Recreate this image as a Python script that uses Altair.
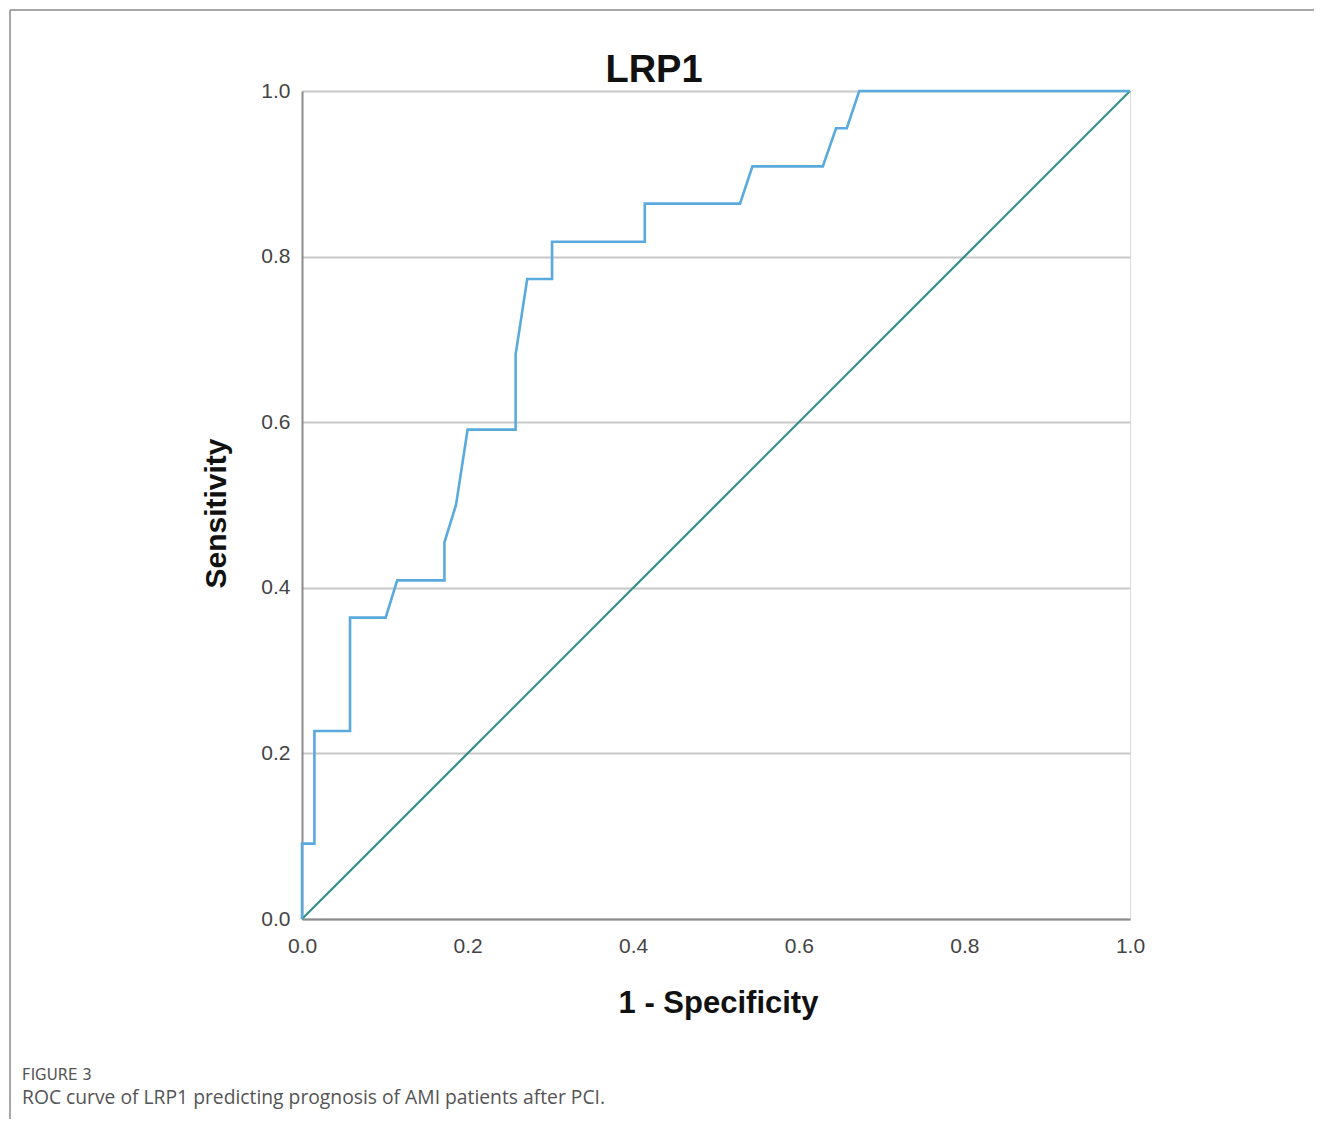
import altair as alt
import pandas as pd

# ROC curve points (1 - Specificity, Sensitivity)
fpr = [0.000, 0.000, 0.015, 0.015, 0.058, 0.058, 0.101, 0.115, 0.172, 0.172,
       0.186, 0.200, 0.258, 0.258, 0.272, 0.302, 0.302, 0.414, 0.414, 0.529,
       0.544, 0.629, 0.645, 0.658, 0.673, 1.000]
tpr = [0.000, 0.091, 0.091, 0.227, 0.227, 0.364, 0.364, 0.409, 0.409, 0.455,
       0.500, 0.591, 0.591, 0.682, 0.773, 0.773, 0.818, 0.818, 0.864, 0.864,
       0.909, 0.909, 0.955, 0.955, 1.000, 1.000]

# Reference (chance) line
ref_x = [0.0, 1.0]
ref_y = [0.0, 1.0]

tick_values = [0.0, 0.2, 0.4, 0.6, 0.8, 1.0]

title_text = "LRP1"
x_title = "1 - Specificity"
y_title = "Sensitivity"
caption_head = "FIGURE 3"
caption_body = "ROC curve of LRP1 predicting prognosis of AMI patients after PCI."

W, H = 828, 828
PAD_L, PAD_T, PAD_R, PAD_B = 294, 83, 184, 200

roc_df = pd.DataFrame({"fpr": fpr, "tpr": tpr, "order": list(range(len(fpr)))})
ref_df = pd.DataFrame({"fpr": ref_x, "tpr": ref_y, "order": [0, 1]})
one = pd.DataFrame({"a": [0]})

x_scale = alt.Scale(domain=[0, 1], nice=False, zero=True)
y_scale = alt.Scale(domain=[0, 1], nice=False, zero=True)

x_axis = alt.Axis(
    title=x_title, values=tick_values, format=".1f", grid=False, ticks=False, tickSize=0,
    labelFont="Liberation Sans", labelFontSize=21, labelColor="#444444", labelPadding=16,
    labelFlush=False, labelOverlap=False,
    domainColor="#8c8c8c", domainWidth=2,
    titleFont="Liberation Sans", titleFontSize=31, titleFontWeight="bold", titleColor="#111111",
    titleX=416, titleY=93, titleBaseline="alphabetic", titleAlign="center", titleAnchor="start",
)
y_axis = alt.Axis(
    title=y_title, values=tick_values, format=".1f", grid=True, ticks=False, tickSize=0,
    gridColor="#c8c8c8", gridWidth=2,
    labelFont="Liberation Sans", labelFontSize=21, labelColor="#444444", labelPadding=12,
    labelFlush=False, labelOverlap=False,
    domainColor="#8c8c8c", domainWidth=2,
    titleFont="Liberation Sans", titleFontSize=30, titleFontWeight="bold", titleColor="#111111",
    titleX=-77, titleY=422, titleAngle=270, titleBaseline="alphabetic", titleAlign="center",
    titleAnchor="start",
)

ref_line = alt.Chart(ref_df).mark_line(color="#3a8c8a", strokeWidth=2.2, clip=False).encode(
    x=alt.X("fpr:Q", scale=x_scale, axis=x_axis),
    y=alt.Y("tpr:Q", scale=y_scale, axis=y_axis),
    order="order:Q",
)
roc_line = alt.Chart(roc_df).mark_line(color="#5aaae0", strokeWidth=2.6, clip=False).encode(
    x=alt.X("fpr:Q", scale=x_scale),
    y=alt.Y("tpr:Q", scale=y_scale),
    order="order:Q",
)

title_mark = alt.Chart(one).mark_text(
    text=title_text, font="Liberation Sans", fontSize=38, fontWeight="bold",
    color="#111111", align="center", baseline="alphabetic",
).encode(x=alt.value(352), y=alt.value(-9))

# Figure frame (top and left border of the figure card)
frame_top = alt.Chart(one).mark_rule(color="#8a8a8a", strokeWidth=1.5).encode(
    x=alt.value(-292), x2=alt.value(1012), y=alt.value(-81)
)
frame_left = alt.Chart(one).mark_rule(color="#8a8a8a", strokeWidth=1.5).encode(
    x=alt.value(-292), y=alt.value(-81), y2=alt.value(1030)
)

cap_head = alt.Chart(one).mark_text(
    text=caption_head, font="DejaVu Sans", fontSize=15, color="#555555",
    align="left", baseline="middle",
).encode(x=alt.value(-280), y=alt.value(984))
cap_body = alt.Chart(one).mark_text(
    text=caption_body, font="Open Sans", fontSize=19.3, color="#555555",
    align="left", baseline="middle",
).encode(x=alt.value(-280), y=alt.value(1007))

chart = alt.layer(
    ref_line, roc_line, title_mark, frame_top, frame_left, cap_head, cap_body
).properties(
    width=W, height=H,
    autosize=alt.AutoSizeParams(type="none"),
    padding={"left": PAD_L, "top": PAD_T, "right": PAD_R, "bottom": PAD_B},
).configure_view(stroke=None).configure(background="white")

chart.save("out.html", embed_options={"renderer": "svg", "actions": False})
